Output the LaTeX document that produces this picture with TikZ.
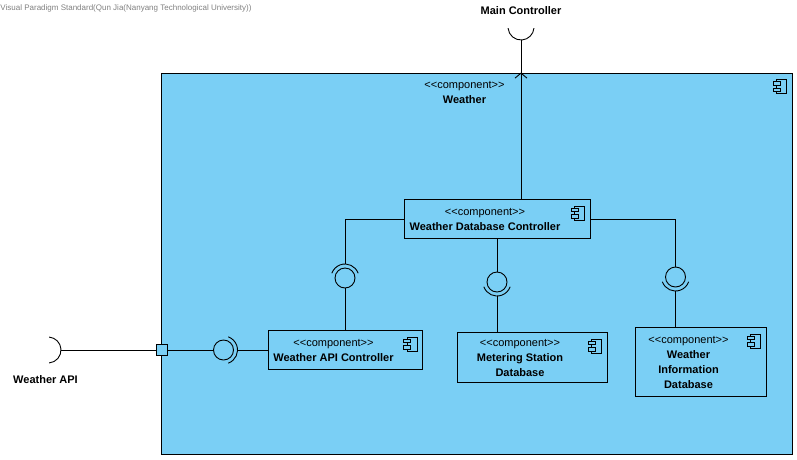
\documentclass[tikz,border=0pt]{standalone}
\usepackage{fontspec}
\setmainfont{Liberation Sans}
\usetikzlibrary{positioning,calc,arrows.meta}

\definecolor{vpblue}{HTML}{7ACFF5}
\newcommand{\stereo}{<\kern0pt<component>\kern0pt>}

\tikzset{
  compicon/.pic={
    \draw[fill=vpblue, line width=0.8pt] (-5pt,-7pt) rectangle (5pt,7pt);
    \draw[fill=vpblue, line width=0.8pt] (-8.5pt,1.5pt) rectangle (-1.5pt,5pt);
    \draw[fill=vpblue, line width=0.8pt] (-8.5pt,-5pt) rectangle (-1.5pt,-1.5pt);
  }
}

\begin{document}
\begin{tikzpicture}[x=1pt, y=-1pt, line width=0.9pt,
  comp/.style={draw, rectangle, fill=vpblue, inner sep=0pt},
  comptext/.style={align=center, inner sep=0pt, font=\fontsize{11}{15}\selectfont},
  ball/.style={draw, circle, minimum size=20pt, inner sep=0pt},
  lbl/.style={font=\fontsize{11}{13}\selectfont\bfseries, inner sep=0pt}]

\useasboundingbox (0,0) rectangle (797,459);

\node[anchor=west, inner sep=0pt, text=gray, font=\fontsize{8}{9}\selectfont] (wm) at (0,8) {Visual Paradigm Standard(Qun Jia(Nanyang Technological University))};

% outer component
\node[comp, minimum width=631pt, minimum height=381pt] (weather) at (476.5,263.5) {};
\node[comptext, below=8pt of weather.north, xshift=-12pt] (weathertext) {\stereo\\\textbf{Weather}};
\pic at ([xshift=-11pt,yshift=-14pt]weather.north east) {compicon};

% inner components
\node[comp, minimum width=186pt, minimum height=39pt] (dbc) at (497,219) {};
\node[comptext] (dbctext) at ([xshift=-12pt]dbc.center) {\stereo\\\textbf{Weather Database Controller}};
\pic at ([xshift=-11pt,yshift=-14pt]dbc.north east) {compicon};

\node[comp, minimum width=154pt, minimum height=39pt] (apic) at (345.5,350) {};
\node[comptext] (apictext) at ([xshift=-12pt]apic.center) {\stereo\\\textbf{Weather API Controller}};
\pic at ([xshift=-11pt,yshift=-14pt]apic.north east) {compicon};

\node[comp, minimum width=150pt, minimum height=50pt] (msdb) at (532,357.5) {};
\node[comptext] (msdbtext) at ([xshift=-12pt]msdb.center) {\stereo\\\textbf{Metering Station}\\\textbf{Database}};
\pic at ([xshift=-11pt,yshift=-14pt]msdb.north east) {compicon};

\node[comp, minimum width=131pt, minimum height=69pt] (widb) at (700.5,362) {};
\node[comptext] (widbtext) at ([xshift=-12pt]widb.center) {\stereo\\\textbf{Weather}\\\textbf{Information}\\\textbf{Database}};
\pic at ([xshift=-11pt,yshift=-14pt]widb.north east) {compicon};

% main controller
\node[lbl] (mctext) at (521,11) {Main Controller};
\coordinate (mc) at (521,27);
\coordinate (mcsock) at (521,40);
\draw (mc) ++(185:13pt) arc[start angle=185, end angle=355, radius=13pt];
\draw (mcsock |- dbc.north) -- (mcsock);
\draw[-{Straight Barb[length=5pt,width=12pt]}] (mcsock |- dbc.north) -- (mcsock |- weather.north);

% interfaces
\node[ball] (apiball) at (345,278) {};
\draw (apiball.center) ++(20:14pt) arc[start angle=20, end angle=160, radius=14pt];
\coordinate (apisock) at ([yshift=14pt]apiball.center);
\draw (dbc.west) -| (apisock);
\draw (apiball.south) -- (apiball.south |- apic.north);

\node[ball] (msball) at (497,282) {};
\draw (msball.center) ++(200:14pt) arc[start angle=200, end angle=340, radius=14pt];
\coordinate (mssock) at ([yshift=-14pt]msball.center);
\draw (dbc.south) -- (msball.north);
\draw (mssock) -- (mssock |- msdb.north);

\node[ball] (wiball) at (675.5,277) {};
\draw (wiball.center) ++(200:14pt) arc[start angle=200, end angle=340, radius=14pt];
\coordinate (wisock) at ([yshift=-14pt]wiball.center);
\draw (dbc.east) -| (wiball.north);
\draw (wisock) -- (wisock |- widb.north);

% port and weather api
\node[draw, fill=vpblue, minimum size=11pt, inner sep=0pt] (port) at (161.5,350) {};
\node[ball] (portball) at (223.5,350) {};
\draw (portball.center) ++(-70:14pt) arc[start angle=-70, end angle=70, radius=14pt];
\coordinate (portsock) at ([xshift=14pt]portball.center);
\draw (port.east) -- (portball.west);
\draw (portsock) -- (apic.west);

\coordinate (wapi) at (48,350);
\draw (wapi) ++(-85:13pt) arc[start angle=-85, end angle=85, radius=13pt];
\coordinate (wapisock) at ([xshift=13pt]wapi);
\draw (wapisock) -- (port.west);
\node[lbl] (wapitext) at (45.5,380) {Weather API};

\end{tikzpicture}
\end{document}
